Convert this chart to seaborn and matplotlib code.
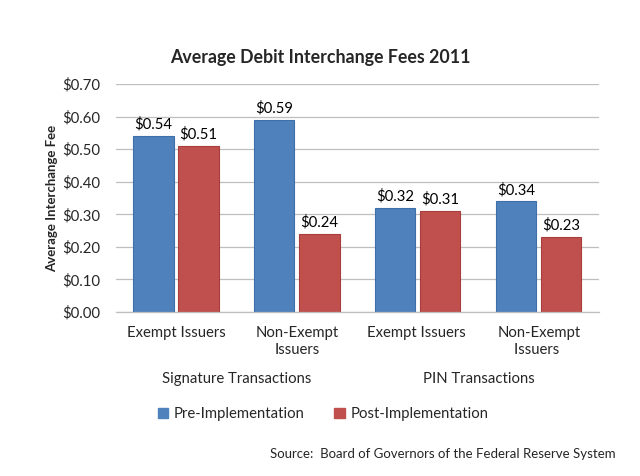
import matplotlib
matplotlib.use("Agg")
import matplotlib.pyplot as plt
import seaborn as sns
import pandas as pd
from matplotlib.patches import Patch
import matplotlib.transforms as mtransforms

categories = ["Exempt Issuers", "Non-Exempt\nIssuers", "Exempt Issuers ", "Non-Exempt\nIssuers "]
groups = ["Signature Transactions", "PIN Transactions"]
series = ["Pre-Implementation", "Post-Implementation"]
pre_values = [0.54, 0.59, 0.32, 0.34]
post_values = [0.51, 0.24, 0.31, 0.23]
yticks = [0.0, 0.1, 0.2, 0.3, 0.4, 0.5, 0.6, 0.7]
colors = ["#4F81BD", "#C0504D"]
edge_colors = ["#3E6FA8", "#A83E3B"]

df = pd.DataFrame({
    "Category": categories * 2,
    "Series": [series[0]] * 4 + [series[1]] * 4,
    "Fee": pre_values + post_values,
})

sns.set_theme(style="white")
plt.rcParams["font.family"] = ["Lato", "DejaVu Sans"]

fig = plt.figure(figsize=(6.4, 4.76), dpi=100)
ax = fig.add_axes([0.1805, 0.3445, 0.756, 0.479])

sns.barplot(data=df, x="Category", y="Fee", hue="Series", order=categories,
            hue_order=series, palette=colors, width=0.745, gap=0.11,
            ax=ax, legend=False, saturation=1)

for i, cont in enumerate(ax.containers):
    for p in cont:
        p.set_edgecolor(edge_colors[i])
        p.set_linewidth(0.8)
    ax.bar_label(cont, labels=[f"${v:.2f}" for v in cont.datavalues],
                 padding=3, fontsize=10.7, color="black")

ax.set_ylim(0, 0.7)
ax.set_xlim(-0.5, 3.5)
ax.set_yticks(yticks)
ax.set_yticklabels([f"${t:.2f}" for t in yticks], fontsize=10.7)
ax.tick_params(axis="y", length=0, pad=11)
ax.tick_params(axis="x", length=0, pad=10, labelsize=10.7)
for lbl in ax.get_xticklabels():
    lbl.set_linespacing(1.3)
ax.set_xlabel("")
ax.set_ylabel("Average Interchange Fee", fontsize=9.5, fontweight="bold", labelpad=3)
ax.yaxis.grid(True, color="#BEBEBE", linewidth=0.9)
ax.set_axisbelow(True)
for s in ["top", "right", "left"]:
    ax.spines[s].set_visible(False)
ax.spines["bottom"].set_color("#BEBEBE")
ax.spines["bottom"].set_linewidth(0.9)

trans = mtransforms.blended_transform_factory(ax.transData, fig.transFigure)
ax.text(0.5, 1 - 379 / 476, groups[0], transform=trans, ha="center", va="center", fontsize=10.7)
ax.text(2.5, 1 - 379 / 476, groups[1], transform=trans, ha="center", va="center", fontsize=10.7)

fig.text(0.5, 1 - 58 / 476, "Average Debit Interchange Fees 2011", ha="center", va="center",
         fontsize=12.8, fontweight="bold")

handles = [Patch(facecolor=colors[0], edgecolor=colors[0]),
           Patch(facecolor=colors[1], edgecolor=colors[1])]
fig.legend(handles, series, loc="center", bbox_to_anchor=(0.505, 1 - 414 / 476), ncol=2,
           frameon=False, fontsize=10.7, handlelength=0.7, handleheight=0.7,
           handletextpad=0.4, columnspacing=2.0)

fig.text(616 / 640, 1 - 454 / 476, "Source:  Board of Governors of the Federal Reserve System",
         ha="right", va="center", fontsize=9.5)

fig.savefig("out.png", dpi=100)
